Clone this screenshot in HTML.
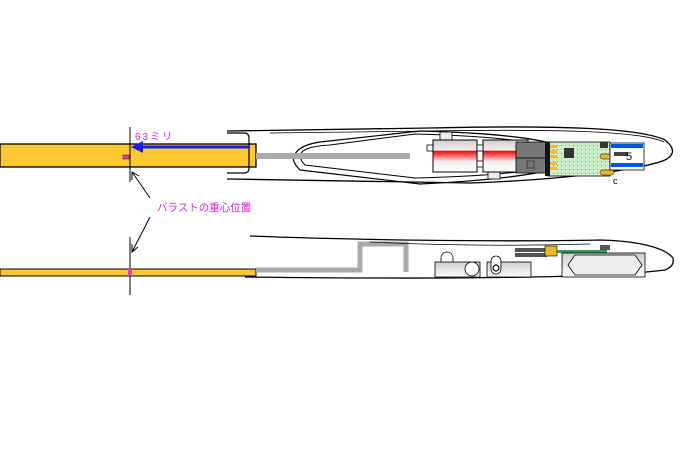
<!DOCTYPE html>
<html><head><meta charset="utf-8"><style>
html,body{margin:0;padding:0;background:#fff;width:684px;height:456px;overflow:hidden}
</style></head><body>
<svg width="684" height="456" viewBox="0 0 684 456" xmlns="http://www.w3.org/2000/svg">
<defs>
<linearGradient id="sv" x1="0" y1="0" x2="0" y2="1">
<stop offset="0" stop-color="#ccc"/><stop offset="0.33" stop-color="#f4f4f4"/><stop offset="0.34" stop-color="#e00"/><stop offset="0.66" stop-color="#fdd"/><stop offset="0.67" stop-color="#eee"/><stop offset="1" stop-color="#fff"/>
</linearGradient>
<linearGradient id="gb" x1="0" y1="0" x2="0" y2="1"><stop offset="0" stop-color="#ccc"/><stop offset="1" stop-color="#fff"/></linearGradient>
<pattern id="dots" width="4" height="4" patternUnits="userSpaceOnUse"><rect width="4" height="4" fill="#cfeec8"/><rect x="1" y="1" width="1" height="1" fill="#5a8"/></pattern>
</defs>
<!-- TOP VIEW -->
<rect x="0" y="144" width="256" height="23" fill="#fcc933" stroke="#000" stroke-width="1.3"/>
<rect x="256" y="153" width="154" height="6" fill="#aaa"/>
<path d="M227 133 H244 Q249 133 249 138 V168 Q249 173 244 173 H227" fill="none" stroke="#000" stroke-width="1.2"/>
<path d="M227 131 L430 128 C560 125 640 128 665 140 Q680 152 665 160 C640 170 560 180 470 183 L227 179" fill="none" stroke="#000" stroke-width="1.3"/>
<path d="M270 133 L430 131 C560 129 640 131 664 142" fill="none" stroke="#000" stroke-width="0.8"/>
<path d="M420 131 C500 133 570 140 575 157 C570 172 500 180 420 184 L300 170 Q290 160 295 154 Q300 145 320 142 Z" fill="none" stroke="#000" stroke-width="1.2"/>
<path d="M415 134 C495 136 565 143 568 157 C565 170 495 176 415 178 L305 165 Q297 157 303 151 Q310 146 330 145 Z" fill="none" stroke="#000" stroke-width="1"/>
<rect x="256" y="153" width="154" height="6" fill="#aaa"/>
<!-- servos -->
<rect x="440" y="132" width="12" height="8" fill="#eee" stroke="#000" stroke-width="0.8"/>
<rect x="488" y="172" width="12" height="7" fill="#eee" stroke="#000" stroke-width="0.8"/>
<rect x="427" y="145" width="6" height="6" fill="#fff" stroke="#000" stroke-width="0.8"/>
<rect x="433" y="140" width="44" height="32" fill="url(#sv)" stroke="#000" stroke-width="1"/>
<rect x="483" y="140" width="45" height="32" fill="url(#sv)" stroke="#000" stroke-width="1"/>
<rect x="477" y="145" width="6" height="6" fill="#fff" stroke="#000" stroke-width="0.8"/>
<rect x="477" y="161" width="6" height="6" fill="#fff" stroke="#000" stroke-width="0.8"/>
<rect x="516" y="142" width="32" height="16" fill="#777" stroke="#000" stroke-width="0.8"/>
<rect x="516" y="158" width="32" height="15" fill="#777" stroke="#000" stroke-width="0.8"/>
<rect x="527" y="161" width="7" height="7" fill="none" stroke="#333" stroke-width="0.8"/>
<!-- pcb -->
<rect x="548" y="142" width="62" height="34" fill="url(#dots)" stroke="#000" stroke-width="0.8"/>
<rect x="545" y="142" width="5" height="34" fill="#111"/>
<g fill="#f2b820"><rect x="550" y="145" width="7" height="3"/><rect x="550" y="150" width="7" height="3"/><rect x="550" y="155" width="7" height="3"/><rect x="550" y="162" width="7" height="3"/><rect x="550" y="167" width="7" height="3"/></g>
<rect x="564" y="148" width="10" height="10" fill="#333"/>
<rect x="600" y="142" width="8" height="6" fill="#333"/>
<rect x="600" y="154" width="14" height="5" rx="2.5" fill="#f2b820" stroke="#000" stroke-width="0.5"/>
<rect x="600" y="170" width="14" height="5" rx="2.5" fill="#f2b820" stroke="#000" stroke-width="0.5"/>
<rect x="610" y="143" width="34" height="27" fill="#fff" stroke="#000" stroke-width="0.8"/>
<rect x="611" y="144" width="32" height="4" fill="#0055dd"/>
<rect x="611" y="163" width="32" height="4" fill="#0055dd"/>
<rect x="614" y="152" width="14" height="4" fill="#444"/>
<text x="626" y="160" font-family="Liberation Sans,sans-serif" font-size="11" fill="#000">5</text>
<text x="613" y="184" font-family="Liberation Sans,sans-serif" font-size="9" fill="#000">c</text>
<!-- measurement -->
<line x1="130" y1="127" x2="130" y2="182" stroke="#000" stroke-width="1"/>
<line x1="140" y1="147" x2="250" y2="147" stroke="#1a1aff" stroke-width="3"/>
<polygon points="131,147 143,141 143,153" fill="#1a1aff"/>
<rect x="123" y="155" width="6" height="4" fill="#e040c0" stroke="#600" stroke-width="0.5"/>
<text x="135" y="140" font-family="Liberation Sans,'Noto Sans CJK JP',sans-serif" font-size="10" fill="#e020e0" letter-spacing="2">63ミリ</text>
<!-- label & arrows -->
<text x="157" y="211" font-family="Liberation Sans,'Noto Sans CJK JP',sans-serif" font-size="10.5" fill="#e020e0">バラストの重心位置</text>
<line x1="150" y1="198" x2="132" y2="172" stroke="#000" stroke-width="1"/>
<polyline points="132,180 132,172 139,176" fill="none" stroke="#000" stroke-width="1"/>
<line x1="150" y1="217" x2="132" y2="252" stroke="#000" stroke-width="1"/>
<polyline points="132,244 132,252 138,247" fill="none" stroke="#000" stroke-width="1"/>
<!-- SIDE VIEW -->
<rect x="0" y="269" width="256" height="7" fill="#fcc933" stroke="#000" stroke-width="1"/>
<line x1="130" y1="237" x2="130" y2="295" stroke="#000" stroke-width="1"/>
<rect x="128" y="268" width="4" height="8" fill="#e040c0"/>
<path d="M256 270 H360 V244 H406 V272" fill="none" stroke="#aaa" stroke-width="5"/>
<path d="M250 236 C350 240 500 242 600 240 C640 241 665 248 673 258 Q675 266 665 270 C620 276 500 280 245 277" fill="none" stroke="#000" stroke-width="1.3"/>
<path d="M370 242 C450 246 520 246 590 244" fill="none" stroke="#000" stroke-width="0.7"/>
<!-- side components -->
<path d="M441 262 V258 A6 6 0 0 1 453 258 V262" fill="#fff" stroke="#000" stroke-width="0.8"/>
<rect x="435" y="262" width="45" height="15" fill="url(#gb)" stroke="#000" stroke-width="0.8"/>
<circle cx="472" cy="269" r="7" fill="#fff" stroke="#000" stroke-width="0.8"/>
<rect x="487" y="262" width="44" height="15" fill="url(#gb)" stroke="#000" stroke-width="0.8"/>
<rect x="491" y="256" width="10" height="18" rx="5" fill="#fff" stroke="#000" stroke-width="0.8"/>
<circle cx="496" cy="268" r="3" fill="#fff" stroke="#000" stroke-width="1.2"/>
<rect x="515" y="248" width="32" height="4" fill="#555"/>
<rect x="515" y="253" width="32" height="4" fill="#555"/>
<rect x="545" y="246" width="12" height="10" fill="#f2b820" stroke="#000" stroke-width="0.6"/>
<rect x="557" y="250" width="50" height="3" fill="#395"/>
<rect x="600" y="245" width="10" height="5" fill="#555"/>
<rect x="562" y="253" width="83" height="24" fill="url(#gb)" stroke="#000" stroke-width="0.8"/>
<path d="M568 265 L575 255 H635 L642 265 L635 275 H575 Z" fill="#eee" stroke="#000" stroke-width="0.8"/>
</svg>
</body></html>
